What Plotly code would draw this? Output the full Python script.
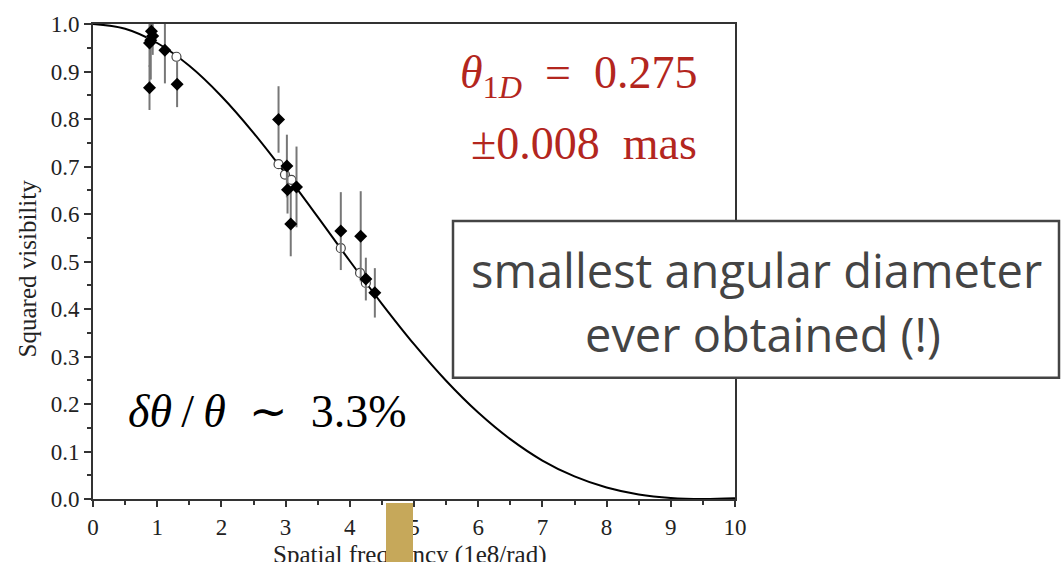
import plotly.graph_objects as go

# ---- data ----
model_x = [0, 0.5, 1, 1.5, 2, 2.5, 3, 3.5, 4, 4.5, 5, 5.5, 6, 6.5, 7, 7.5, 8, 8.5, 9, 9.5, 10]
model_y = [1.0, 0.990, 0.960, 0.912, 0.848, 0.771, 0.685, 0.594, 0.501, 0.411, 0.326, 0.249,
           0.182, 0.126, 0.081, 0.0475, 0.0241, 0.0095, 0.0021, 0.0, 0.0015]

obs_x = [0.91, 0.93, 0.90, 0.88, 0.88, 1.12, 1.31, 2.89, 3.02, 3.03, 3.17, 3.08, 3.86, 4.17, 4.25, 4.39]
obs_y = [0.985, 0.975, 0.966, 0.960, 0.866, 0.945, 0.873, 0.799, 0.701, 0.651, 0.657, 0.579,
         0.564, 0.553, 0.463, 0.434]
obs_err = [0.03, 0.04, 0.083, 0.05, 0.047, 0.07, 0.048, 0.07, 0.066, 0.05, 0.085, 0.068,
           0.082, 0.095, 0.045, 0.052]

fit_x = [0.90, 1.30, 2.89, 2.99, 3.09, 3.86, 4.16, 4.25]
fit_y = [0.968, 0.931, 0.705, 0.683, 0.672, 0.528, 0.476, 0.455]

x_ticks = [0, 1, 2, 3, 4, 5, 6, 7, 8, 9, 10]
y_ticks = [0.0, 0.1, 0.2, 0.3, 0.4, 0.5, 0.6, 0.7, 0.8, 0.9, 1.0]
y_ticktext = ["%.1f" % v for v in y_ticks]

SERIF = "Liberation Serif"
AX = "#333333"
THIN = "\u2009"

fig = go.Figure()
fig.add_trace(go.Scatter(x=model_x, y=model_y, mode="lines",
                         line=dict(color="black", width=2, shape="spline", smoothing=1.0),
                         hoverinfo="skip", showlegend=False))
fig.add_trace(go.Scatter(x=fit_x, y=fit_y, mode="markers",
                         marker=dict(symbol="circle", size=9, color="white",
                                     line=dict(color="#444444", width=1.2)),
                         showlegend=False))
fig.add_trace(go.Scatter(x=obs_x, y=obs_y, mode="markers",
                         marker=dict(symbol="diamond", size=10, color="black"),
                         error_y=dict(type="data", array=obs_err, visible=True,
                                      color="#777777", thickness=2, width=0),
                         showlegend=False))

def px_x(p):
    return (p - 93) / 642.0

def px_y(p):
    return (499 - p) / 482.0

fig.add_shape(type="rect", xref="paper", yref="paper",
              x0=px_x(453), x1=px_x(1059), y0=px_y(376), y1=px_y(217),
              line=dict(color="#444444", width=2.5), fillcolor="white", layer="above")

ann = []
ann.append(dict(text="<i>θ</i><sub>1<i>D</i></sub>&nbsp; = &nbsp;0.275", x=px_x(699), y=px_y(70),
                xanchor="right", yanchor="middle",
                font=dict(family=SERIF, size=46, color="#b3261e")))
ann.append(dict(text="±0.008&nbsp; mas", x=px_x(699), y=px_y(138),
                xanchor="right", yanchor="middle",
                font=dict(family=SERIF, size=46, color="#b3261e")))
ann.append(dict(text="<i>δθ</i>" + THIN + "/" + THIN + "<i>θ</i>&nbsp; ∼ &nbsp;3.3%",
                x=px_x(267), y=px_y(410),
                xanchor="center", yanchor="middle",
                font=dict(family=SERIF, size=46, color="black")))
ann.append(dict(text="smallest angular diameter", x=px_x(756), y=px_y(267),
                xanchor="center", yanchor="middle",
                font=dict(family="Open Sans", size=47, color="#444444")))
ann.append(dict(text="ever obtained (!)", x=px_x(763), y=px_y(332),
                xanchor="center", yanchor="middle",
                font=dict(family="Open Sans", size=47, color="#444444")))
ann.append(dict(text="Squared visibility", x=px_x(27), y=px_y(265), textangle=-90,
                xanchor="center", yanchor="middle",
                font=dict(family=SERIF, size=25, color="#222222")))
ann.append(dict(text="Spatial frequency (1e8/rad)", x=px_x(410), y=px_y(556),
                xanchor="center", yanchor="middle",
                font=dict(family=SERIF, size=25, color="#222222")))
# gold marker block on top of the axis label
ann.append(dict(text="&nbsp;", x=px_x(399.5), y=px_y(532.5), xanchor="center", yanchor="middle",
                width=27, height=59, bgcolor="#c6a85a", borderpad=0, borderwidth=0,
                font=dict(size=10, color="#c6a85a")))
for a in ann:
    a.update(xref="paper", yref="paper", showarrow=False)

fig.update_layout(
    width=1061, height=562,
    margin=dict(l=93, r=326, t=17, b=63, pad=0),
    plot_bgcolor="white", paper_bgcolor="white",
    annotations=ann,
    xaxis=dict(range=[0, 10], tickvals=x_ticks, showgrid=False, zeroline=False,
               showline=True, linecolor=AX, linewidth=2, mirror=True,
               ticks="outside", ticklen=6, tickwidth=1.5, tickcolor=AX,
               minor=dict(dtick=0.5, ticks="outside", ticklen=4, tickwidth=1.5, tickcolor=AX),
               tickfont=dict(family=SERIF, size=23, color="#222222")),
    yaxis=dict(range=[0, 1.0], tickvals=y_ticks, ticktext=y_ticktext, showgrid=False, zeroline=False,
               showline=True, linecolor=AX, linewidth=2, mirror=True,
               ticks="outside", ticklen=7, tickwidth=1.5, tickcolor=AX,
               minor=dict(dtick=0.05, ticks="outside", ticklen=4, tickwidth=1.5, tickcolor=AX),
               tickfont=dict(family=SERIF, size=23, color="#222222")),
)

fig.write_html("out.html", config={"displayModeBar": False},
               post_script="document.body.style.margin='0px';document.body.style.overflow='hidden';")
